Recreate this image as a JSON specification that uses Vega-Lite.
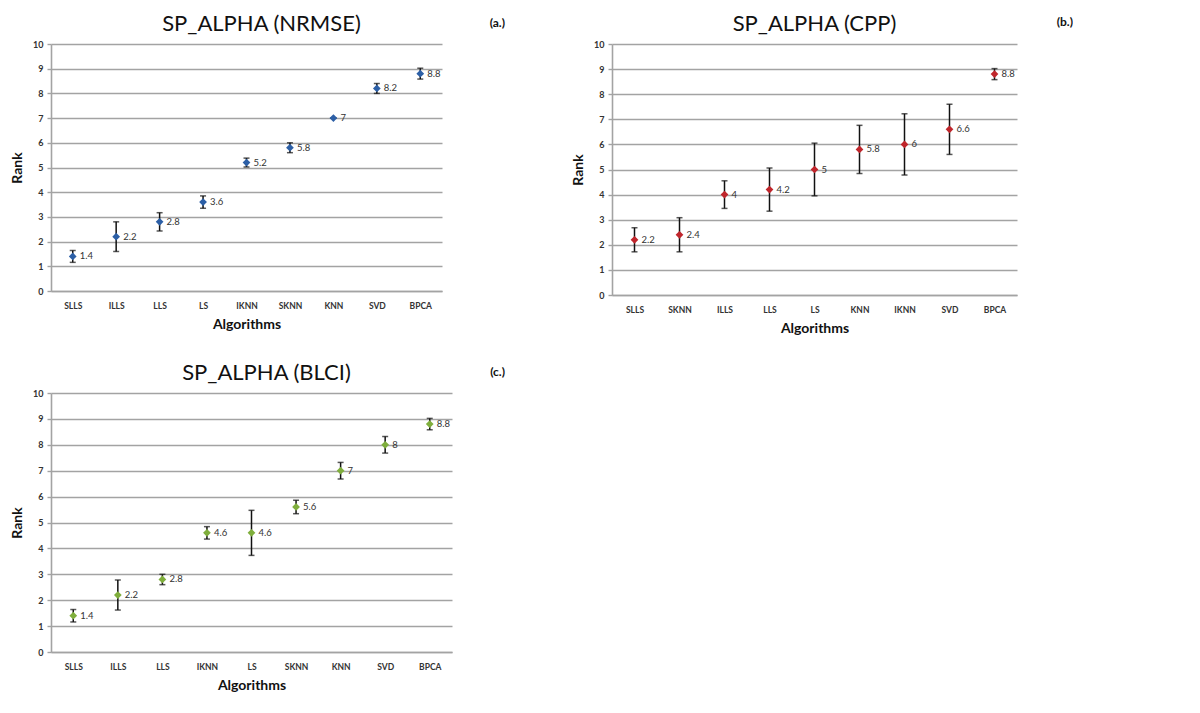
{
  "$schema": "https://vega.github.io/schema/vega-lite/v6.json",
  "padding": {"left": 10, "top": 13, "right": 0, "bottom": 0},
  "background": "white",
  "config": {
    "view": {"stroke": null},
    "font": "Lato",
    "title": {"font": "Lato", "fontSize": 22, "fontWeight": "normal", "color": "#111", "offset": 4},
    "axisX": {
      "grid": false, "ticks": false, "domain": true, "domainColor": "#a3a3a3", "domainWidth": 1.6,
      "labelFont": "Lato", "labelFontSize": 8.5, "labelFontWeight": "bold", "labelColor": "#333", "labelAngle": 0, "labelPadding": 10,
      "titleFont": "Lato", "titleFontSize": 14, "titleFontWeight": "bold", "titleColor": "#111", "titlePadding": 8
    },
    "axisY": {
      "grid": true, "gridColor": "#a3a3a3", "gridWidth": 1.6, "domain": true, "domainColor": "#a3a3a3", "domainWidth": 1.6,
      "ticks": true, "tickColor": "#a3a3a3", "tickSize": 4, "tickWidth": 1.4, "labelOverlap": false,
      "labelFont": "Lato", "labelFontSize": 9, "labelFontWeight": "bold", "labelColor": "#333", "labelPadding": 4,
      "titleFont": "Lato", "titleFontSize": 14, "titleFontWeight": "bold", "titleColor": "#111", "titlePadding": 8
    }
  },
  "datasets": {
    "a": [
      {"algorithm": "SLLS", "rank": 1.4, "lo": 1.16, "hi": 1.64},
      {"algorithm": "ILLS", "rank": 2.2, "lo": 1.6, "hi": 2.8},
      {"algorithm": "LLS", "rank": 2.8, "lo": 2.43, "hi": 3.17},
      {"algorithm": "LS", "rank": 3.6, "lo": 3.35, "hi": 3.85},
      {"algorithm": "IKNN", "rank": 5.2, "lo": 5.02, "hi": 5.38},
      {"algorithm": "SKNN", "rank": 5.8, "lo": 5.6, "hi": 6.0},
      {"algorithm": "KNN", "rank": 7, "lo": 7, "hi": 7},
      {"algorithm": "SVD", "rank": 8.2, "lo": 8.0, "hi": 8.4},
      {"algorithm": "BPCA", "rank": 8.8, "lo": 8.58, "hi": 9.02}
    ],
    "b": [
      {"algorithm": "SLLS", "rank": 2.2, "lo": 1.72, "hi": 2.68},
      {"algorithm": "SKNN", "rank": 2.4, "lo": 1.72, "hi": 3.08},
      {"algorithm": "ILLS", "rank": 4, "lo": 3.45, "hi": 4.55},
      {"algorithm": "LLS", "rank": 4.2, "lo": 3.34, "hi": 5.06},
      {"algorithm": "LS", "rank": 5, "lo": 3.95, "hi": 6.05},
      {"algorithm": "KNN", "rank": 5.8, "lo": 4.84, "hi": 6.76},
      {"algorithm": "IKNN", "rank": 6, "lo": 4.78, "hi": 7.22},
      {"algorithm": "SVD", "rank": 6.6, "lo": 5.6, "hi": 7.6},
      {"algorithm": "BPCA", "rank": 8.8, "lo": 8.58, "hi": 9.02}
    ],
    "c": [
      {"algorithm": "SLLS", "rank": 1.4, "lo": 1.16, "hi": 1.64},
      {"algorithm": "ILLS", "rank": 2.2, "lo": 1.62, "hi": 2.78},
      {"algorithm": "LLS", "rank": 2.8, "lo": 2.6, "hi": 3.0},
      {"algorithm": "IKNN", "rank": 4.6, "lo": 4.36, "hi": 4.84},
      {"algorithm": "LS", "rank": 4.6, "lo": 3.73, "hi": 5.47},
      {"algorithm": "SKNN", "rank": 5.6, "lo": 5.34, "hi": 5.86},
      {"algorithm": "KNN", "rank": 7, "lo": 6.68, "hi": 7.32},
      {"algorithm": "SVD", "rank": 8, "lo": 7.68, "hi": 8.32},
      {"algorithm": "BPCA", "rank": 8.8, "lo": 8.58, "hi": 9.02}
    ]
  },
  "spacing": 26,
  "vconcat": [
    {
      "spacing": 66,
      "hconcat": [
        {
          "title": {"text": "(a.)", "anchor": "end", "fontSize": 12, "fontWeight": "bold", "offset": -17, "dx": 63},
          "hconcat": [
            {
              "width": 391, "height": 247,
              "title": {"text": "SP_ALPHA (NRMSE)", "dx": 15},
              "data": {"name": "a"},
              "encoding": {
                "x": {"field": "algorithm", "type": "nominal", "sort": null, "scale": {"type": "point", "padding": 0.5}, "title": "Algorithms"},
                "y": {"field": "rank", "type": "quantitative", "scale": {"domain": [0, 10], "nice": false}, "title": "Rank", "axis": {"values": [0,1,2,3,4,5,6,7,8,9,10]}}
              },
              "layer": [
                {
                  "mark": {"type": "errorbar", "ticks": {"size": 6, "thickness": 1.5}, "color": "#111", "thickness": 1.5},
                  "encoding": {"y": {"field": "lo", "type": "quantitative"}, "y2": {"field": "hi"}}
                },
                {"mark": {"type": "point", "shape": "diamond", "filled": true, "size": 60, "color": "#2c5fa6", "opacity": 1}},
                {
                  "mark": {"type": "text", "align": "left", "baseline": "middle", "dx": 7, "fontSize": 9.5, "color": "#333"},
                  "encoding": {"text": {"field": "rank", "type": "nominal"}}
                }
              ]
            }
          ]
        },
        {
          "title": {"text": "(b.)", "anchor": "end", "fontSize": 12, "fontWeight": "bold", "offset": -16, "dx": 56},
          "hconcat": [
            {
              "width": 405, "height": 251,
              "title": {"text": "SP_ALPHA (CPP)"},
              "data": {"name": "b"},
              "encoding": {
                "x": {"field": "algorithm", "type": "nominal", "sort": null, "scale": {"type": "point", "padding": 0.5}, "title": "Algorithms"},
                "y": {"field": "rank", "type": "quantitative", "scale": {"domain": [0, 10], "nice": false}, "title": "Rank", "axis": {"values": [0,1,2,3,4,5,6,7,8,9,10]}}
              },
              "layer": [
                {
                  "mark": {"type": "errorbar", "ticks": {"size": 6, "thickness": 1.5}, "color": "#111", "thickness": 1.5},
                  "encoding": {"y": {"field": "lo", "type": "quantitative"}, "y2": {"field": "hi"}}
                },
                {"mark": {"type": "point", "shape": "diamond", "filled": true, "size": 60, "color": "#c0262c", "opacity": 1}},
                {
                  "mark": {"type": "text", "align": "left", "baseline": "middle", "dx": 7, "fontSize": 9.5, "color": "#333"},
                  "encoding": {"text": {"field": "rank", "type": "nominal"}}
                }
              ]
            }
          ]
        }
      ]
    },
    {
      "title": {"text": "(c.)", "anchor": "end", "fontSize": 12, "fontWeight": "bold", "offset": -17, "dx": 53},
      "hconcat": [
        {
          "width": 401, "height": 259,
          "title": {"text": "SP_ALPHA (BLCI)", "dx": 15},
          "data": {"name": "c"},
          "encoding": {
            "x": {"field": "algorithm", "type": "nominal", "sort": null, "scale": {"type": "point", "padding": 0.5}, "title": "Algorithms"},
            "y": {"field": "rank", "type": "quantitative", "scale": {"domain": [0, 10], "nice": false}, "title": "Rank", "axis": {"values": [0,1,2,3,4,5,6,7,8,9,10]}}
          },
          "layer": [
            {
              "mark": {"type": "errorbar", "ticks": {"size": 6, "thickness": 1.5}, "color": "#111", "thickness": 1.5},
              "encoding": {"y": {"field": "lo", "type": "quantitative"}, "y2": {"field": "hi"}}
            },
            {"mark": {"type": "point", "shape": "diamond", "filled": true, "size": 60, "color": "#7fae3c", "opacity": 1}},
            {
              "mark": {"type": "text", "align": "left", "baseline": "middle", "dx": 7, "fontSize": 9.5, "color": "#333"},
              "encoding": {"text": {"field": "rank", "type": "nominal"}}
            }
          ]
        }
      ]
    }
  ]
}
